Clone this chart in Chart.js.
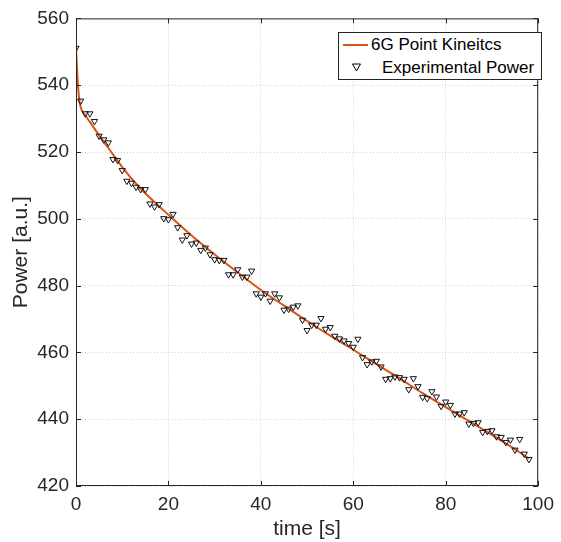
<!DOCTYPE html>
<html lang="en">
<head>
    <meta charset="UTF-8">
    <title>Power vs time</title>
    <style>
        body { margin: 0; background: #fff; }
        .wrap { position: relative; width: 561px; height: 542px; }
        #legend {
            position: absolute; left: 338px; top: 32px; width: 202px; height: 46px;
            border: 1px solid #262626; background: #fff;
            font-family: 'Liberation Sans', Arial, sans-serif; font-size: 17px; color: #000;
        }
        #legend .row { position: absolute; white-space: nowrap; }
        #legend .line { position: absolute; left: 4px; top: 11px; width: 25px; height: 2px; background: #D95319; }
        #legend svg { position: absolute; left: 13px; top: 30px; }
    </style>
</head>
<body>
<div class="wrap">
    <canvas id="chart" width="561" height="542"></canvas>
    <div id="legend">
        <div class="line"></div>
        <div class="row" style="left:32px; top:2px;">6G Point Kineitcs</div>
        <svg width="9" height="9" viewBox="0 0 9 9"><polygon points="0.5,1 8.5,1 4.5,8" fill="none" stroke="#000" stroke-width="1"/></svg>
        <div class="row" style="left:43px; top:25px;">Experimental Power</div>
    </div>
</div>

<script src="https://cdnjs.cloudflare.com/ajax/libs/Chart.js/4.4.1/chart.umd.min.js"></script>
<script>
    const xTickValues = [0, 20, 40, 60, 80, 100];
    const yTickValues = [420, 440, 460, 480, 500, 520, 540, 560];

    // experimental power, one reading per second
    const expTime = [0, 1, 2, 3, 4, 5, 6, 7, 8, 9,
        10, 11, 12, 13, 14, 15, 16, 17, 18, 19,
        20, 21, 22, 23, 24, 25, 26, 27, 28, 29,
        30, 31, 32, 33, 34, 35, 36, 37, 38, 39,
        40, 41, 42, 43, 44, 45, 46, 47, 48, 49,
        50, 51, 52, 53, 54, 55, 56, 57, 58, 59,
        60, 61, 62, 63, 64, 65, 66, 67, 68, 69,
        70, 71, 72, 73, 74, 75, 76, 77, 78, 79,
        80, 81, 82, 83, 84, 85, 86, 87, 88, 89,
        90, 91, 92, 93, 94, 95, 96, 97, 98];
    const expPower = [551.1, 535.3, 531.5, 531.5, 529.2, 524.8, 523.7, 522.8, 517.8, 517.5,
        514.5, 511.3, 510.7, 509.5, 508.8, 508.8, 504.5, 503.6, 504.3, 500.1,
        499.8, 501.4, 497.4, 493.7, 495.0, 492.5, 492.8, 490.6, 491.3, 489.3,
        487.8, 487.6, 487.6, 483.3, 483.3, 484.8, 482.6, 482.6, 484.4, 477.6,
        476.6, 477.6, 475.4, 477.6, 476.4, 472.7, 473.0, 473.6, 474.0, 469.7,
        466.6, 468.2, 468.2, 470.2, 467.0, 467.5, 464.9, 464.1, 463.5, 462.7,
        461.6, 464.0, 458.5, 456.4, 457.2, 457.4, 455.7, 452.0, 452.2, 452.7,
        452.5, 452.0, 448.9, 452.2, 449.8, 446.6, 446.2, 448.3, 446.7, 443.9,
        445.2, 444.2, 441.6, 441.6, 442.0, 438.6, 438.8, 439.0, 436.1, 436.4,
        436.6, 434.8, 434.6, 433.1, 433.8, 430.8, 434.0, 429.6, 428.0];

    // 6G point kinetics model curve
    const modelTime = [0, 0.3, 0.6, 1, 2, 3, 5, 7, 10, 13, 16, 20, 25, 30, 35, 40,
        45, 50, 55, 60, 65, 70, 75, 80, 85, 90, 95, 98];
    const modelPower = [551, 543, 537, 533.5, 531, 529, 525, 521.2, 515.5, 510.5, 506.3, 501.2,
        495, 489.3, 483.9, 478.7, 474, 469.4, 465, 460.8, 456.5, 452.2, 447.8, 443.6,
        439.5, 435.3, 431.0, 428.2];

    const FONT = "'Liberation Sans', Arial, sans-serif";
    const AXIS_COLOR = '#262626';

    function toPoints(xs, ys) {
        return xs.map((x, i) => ({x: x, y: ys[i]}));
    }

    const axesBox = {
        id: 'axesBox',
        afterDatasetsDraw(chart) {
            const {ctx, chartArea: a, scales: {x, y}} = chart;
            ctx.save();
            ctx.strokeStyle = AXIS_COLOR;
            ctx.lineWidth = 1;
            ctx.beginPath();
            ctx.rect(a.left + 0.5, a.top + 0.5, a.right - a.left - 1, a.bottom - a.top - 1);
            for (const v of xTickValues) {
                const px = Math.round(x.getPixelForValue(v)) + 0.5;
                ctx.moveTo(px, a.bottom); ctx.lineTo(px, a.bottom - 5);
                ctx.moveTo(px, a.top); ctx.lineTo(px, a.top + 5);
            }
            for (const v of yTickValues) {
                const py = Math.round(y.getPixelForValue(v)) + 0.5;
                ctx.moveTo(a.left, py); ctx.lineTo(a.left + 5, py);
                ctx.moveTo(a.right, py); ctx.lineTo(a.right - 5, py);
            }
            ctx.stroke();
            ctx.restore();
        }
    };

    new Chart(document.getElementById('chart'), {
        type: 'scatter',
        data: {
            datasets: [{
                label: '6G Point Kineitcs',
                data: toPoints(modelTime, modelPower),
                showLine: true,
                pointRadius: 0,
                borderColor: '#D95319',
                borderWidth: 2,
                cubicInterpolationMode: 'monotone',
                order: 1
            }, {
                label: 'Experimental Power',
                data: toPoints(expTime, expPower),
                pointStyle: 'triangle',
                rotation: 180,
                pointRadius: 3.6,
                borderWidth: 1,
                borderColor: '#111',
                backgroundColor: 'rgba(255,255,255,0)',
                order: 0
            }]
        },
        options: {
            responsive: false,
            animation: false,
            devicePixelRatio: 1,
            layout: {padding: {top: 18, right: 17, left: 0, bottom: 0}},
            plugins: {legend: {display: false}, tooltip: {enabled: false}},
            scales: {
                x: {
                    type: 'linear',
                    min: xTickValues[0],
                    max: xTickValues[xTickValues.length - 1],
                    afterBuildTicks: s => { s.ticks = xTickValues.map(v => ({value: v})); },
                    afterFit: s => { s.height = 56; },
                    grid: {color: '#d2d2d2', drawTicks: false},
                    border: {display: false, dash: [1, 2]},
                    ticks: {color: AXIS_COLOR, font: {family: FONT, size: 19}, padding: 7, maxRotation: 0},
                    title: {display: true, text: 'time [s]', color: AXIS_COLOR,
                        font: {family: FONT, size: 21}, padding: {top: 0, bottom: 0}}
                },
                y: {
                    type: 'linear',
                    min: yTickValues[0],
                    max: yTickValues[yTickValues.length - 1],
                    afterBuildTicks: s => { s.ticks = yTickValues.map(v => ({value: v})); },
                    afterFit: s => { s.width = 76; },
                    grid: {color: '#d2d2d2', drawTicks: false},
                    border: {display: false, dash: [1, 2]},
                    ticks: {color: AXIS_COLOR, font: {family: FONT, size: 19}, padding: 7},
                    title: {display: true, text: 'Power [a.u.]', color: AXIS_COLOR,
                        font: {family: FONT, size: 21}, padding: {top: 9, bottom: 0}}
                }
            }
        },
        plugins: [axesBox]
    });
</script>
</body>
</html>
